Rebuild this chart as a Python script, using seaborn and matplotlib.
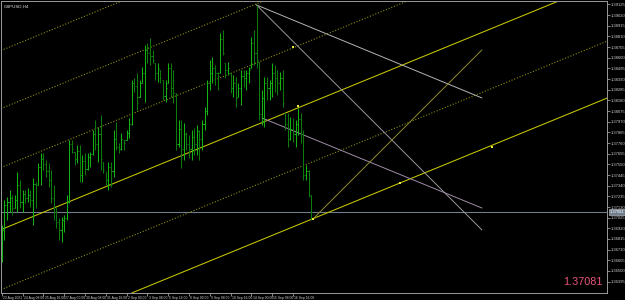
import numpy as np
import pandas as pd
import matplotlib
matplotlib.use("Agg")
import matplotlib.pyplot as plt
import matplotlib.transforms as mtransforms
import seaborn as sns

# ---------------- data ----------------
symbol_title = "GBPUSD,H4"
current_price = 1.37081

bar_high = [1.36953, 1.37199, 1.37229, 1.37297, 1.37248, 1.37248, 1.37475, 1.37396, 1.37297, 1.37297,
            1.37317, 1.37297, 1.37416, 1.37376, 1.37563, 1.37662, 1.37662, 1.37593, 1.37563, 1.37494,
            1.37347, 1.37130, 1.37022, 1.37032, 1.37051, 1.37248, 1.37790, 1.37790, 1.37672, 1.37741,
            1.37741, 1.37642, 1.37662, 1.37662, 1.37672, 1.37888, 1.37987, 1.37918, 1.38036, 1.37573,
            1.37475, 1.37573, 1.37573, 1.37888, 1.37967, 1.37760, 1.37859, 1.37790, 1.37888, 1.38007,
            1.38381, 1.38401, 1.38450, 1.38381, 1.38509, 1.38726, 1.38745, 1.38795, 1.38676, 1.38548,
            1.38548, 1.38479, 1.38381, 1.38381, 1.38548, 1.38548, 1.38479, 1.38253, 1.37987, 1.37987,
            1.37957, 1.37869, 1.37839, 1.37888, 1.37908, 1.37938, 1.37888, 1.37987, 1.38115, 1.38381,
            1.38578, 1.38608, 1.38529, 1.38460, 1.38844, 1.38873, 1.38548, 1.38558, 1.38450, 1.38430,
            1.38411, 1.38351, 1.38479, 1.38479, 1.38479, 1.38509, 1.38805, 1.38873, 1.39120, 1.38558,
            1.38282, 1.38411, 1.38411, 1.38381, 1.38548, 1.38529, 1.38479, 1.38460, 1.38479, 1.38056,
            1.38056, 1.38017, 1.38007, 1.37987, 1.38105, 1.38056, 1.37888, 1.37544, 1.37494, 1.37248]
bar_low = [1.36588, 1.36805, 1.37002, 1.37081, 1.37051, 1.37120, 1.37081, 1.37120, 1.37081, 1.37169,
           1.37179, 1.37130, 1.36953, 1.37120, 1.37347, 1.37347, 1.37494, 1.37426, 1.37327, 1.37169,
           1.37002, 1.36923, 1.36805, 1.36785, 1.36884, 1.37002, 1.37169, 1.37662, 1.37544, 1.37563,
           1.37376, 1.37376, 1.37445, 1.37494, 1.37524, 1.37642, 1.37691, 1.37573, 1.37494, 1.37465,
           1.37347, 1.37297, 1.37327, 1.37426, 1.37691, 1.37662, 1.37691, 1.37691, 1.37790, 1.37810,
           1.37938, 1.38263, 1.38085, 1.38214, 1.38351, 1.38164, 1.38548, 1.38529, 1.38548, 1.38381,
           1.38361, 1.38351, 1.38184, 1.38164, 1.38351, 1.38214, 1.38154, 1.37691, 1.37721, 1.37514,
           1.37593, 1.37691, 1.37613, 1.37593, 1.37642, 1.37642, 1.37593, 1.37691, 1.37888, 1.38036,
           1.38282, 1.38351, 1.38332, 1.38282, 1.38450, 1.38627, 1.38401, 1.38430, 1.38253, 1.38214,
           1.38115, 1.38214, 1.38135, 1.38312, 1.38282, 1.38351, 1.38499, 1.38529, 1.38499, 1.37987,
           1.37938, 1.37918, 1.38184, 1.38184, 1.38214, 1.38263, 1.38233, 1.38282, 1.38115, 1.37888,
           1.37721, 1.37790, 1.37770, 1.37721, 1.37839, 1.37760, 1.37396, 1.37396, 1.37229, 1.37002]
bar_open = [1.3665, 1.3690, 1.3715, 1.3718, 1.3722, 1.3712, 1.3720, 1.3735, 1.3718, 1.3726,
            1.3722, 1.3725, 1.3720, 1.3736, 1.3735, 1.3752, 1.3760, 1.3755, 1.3748, 1.3740,
            1.3722, 1.3708, 1.3698, 1.3690, 1.3700, 1.3702, 1.3718, 1.3775, 1.3767, 1.3760,
            1.3768, 1.3745, 1.3758, 1.3750, 1.3762, 1.3765, 1.3785, 1.3775, 1.3785, 1.3757,
            1.3748, 1.3740, 1.3752, 1.3748, 1.3780, 1.3772, 1.3770, 1.3779, 1.3779, 1.3786,
            1.3795, 1.3835, 1.3832, 1.3821, 1.3835, 1.3845, 1.3868, 1.3865, 1.3862, 1.3855,
            1.3845, 1.3848, 1.3838, 1.3822, 1.3835, 1.3850, 1.3830, 1.3825, 1.3775, 1.3790,
            1.3770, 1.3785, 1.3775, 1.3770, 1.3782, 1.3775, 1.3788, 1.3780, 1.3795, 1.3808,
            1.3835, 1.3845, 1.3850, 1.3845, 1.3845, 1.3878, 1.3855, 1.3848, 1.3845, 1.3830,
            1.3835, 1.3821, 1.3830, 1.3842, 1.3840, 1.3845, 1.3850, 1.3875, 1.3865, 1.3856,
            1.3805, 1.3820, 1.3835, 1.3830, 1.3835, 1.3845, 1.3840, 1.3835, 1.3840, 1.3806,
            1.3795, 1.3780, 1.3790, 1.3785, 1.3795, 1.3800, 1.3785, 1.3745, 1.3748, 1.3725]
bar_close = [1.3690, 1.3715, 1.3718, 1.3722, 1.3712, 1.3720, 1.3735, 1.3718, 1.3726, 1.3722,
             1.3725, 1.3720, 1.3736, 1.3735, 1.3752, 1.3760, 1.3755, 1.3748, 1.3740, 1.3722,
             1.3708, 1.3698, 1.3690, 1.3700, 1.3702, 1.3718, 1.3775, 1.3770, 1.3760, 1.3768,
             1.3745, 1.3758, 1.3750, 1.3762, 1.3765, 1.3785, 1.3775, 1.3785, 1.3760, 1.3750,
             1.3740, 1.3752, 1.3748, 1.3780, 1.3772, 1.3770, 1.3780, 1.3776, 1.3786, 1.3795,
             1.3835, 1.3832, 1.3815, 1.3835, 1.3845, 1.3868, 1.3865, 1.3862, 1.3858, 1.3845,
             1.3850, 1.3840, 1.3822, 1.3830, 1.3850, 1.3830, 1.3825, 1.3775, 1.3790, 1.3770,
             1.3785, 1.3775, 1.3770, 1.3782, 1.3775, 1.3788, 1.3780, 1.3795, 1.3808, 1.3835,
             1.3845, 1.3850, 1.3845, 1.3842, 1.3878, 1.3865, 1.3848, 1.3850, 1.3830, 1.3835,
             1.3820, 1.3830, 1.3842, 1.3840, 1.3845, 1.3848, 1.3875, 1.3865, 1.3858, 1.3805,
             1.3820, 1.3835, 1.3830, 1.3835, 1.3845, 1.3840, 1.3835, 1.3840, 1.3815, 1.3795,
             1.3780, 1.3790, 1.3785, 1.3795, 1.3800, 1.3785, 1.3745, 1.3748, 1.3725, 1.37081]

date_labels = ["23 Aug 2021", "24 Aug 08:00", "25 Aug 16:00", "27 Aug 00:00", "30 Aug 08:00",
               "31 Aug 16:00", "2 Sep 00:00", "3 Sep 08:00", "6 Sep 16:00", "8 Sep 00:00",
               "9 Sep 08:00", "10 Sep 16:00", "14 Sep 00:00", "15 Sep 08:00", "16 Sep 16:00"]
date_label_bars = [0, 8, 16, 24, 32, 40, 48, 56, 64, 72, 80, 88, 96, 104, 112]

price_ticks = [1.39125, 1.39020, 1.38915, 1.38810, 1.38705, 1.38600, 1.38495, 1.38390, 1.38285,
               1.38180, 1.38075, 1.37970, 1.37865, 1.37760, 1.37655, 1.37550, 1.37445, 1.37340,
               1.37235, 1.37130, 1.37025, 1.36920, 1.36815, 1.36710, 1.36605, 1.36500, 1.36395]

# Fibonacci-style channel: price of each level at bar 0, common slope (price per bar)
channel_at_bar0 = [1.38674, 1.38102, 1.37521, 1.36910, 1.36319, 1.35758]
channel_solid = [False, False, False, True, False, True]
channel_slope = 0.000105

# trend lines: (bar0, price0, bar1, price1)
trend_bar0 = [98.0, 98.0, 100.1, 119.7]
trend_p0 = [1.39120, 1.39120, 1.38007, 1.37012]
trend_bar1 = [184.7, 184.7, 184.7, 184.7]
trend_p1 = [1.38204, 1.36904, 1.37120, 1.38677]
trend_colors = ["#b4b4b4", "#9a9a9a", "#a08ca8", "#8c8c30"]

anchor_bars = [114.0, 119.7, 153.2, 188.6, 112.0]
anchor_prices = [1.38125, 1.37012, 1.37366, 1.37721, 1.38706]

# ---------------- figure ----------------
sns.set_style("dark", {"axes.facecolor": "black", "figure.facecolor": "black"})
plt.rcParams["font.family"] = ["Liberation Sans", "DejaVu Sans"]

W, H = 625, 300
fig = plt.figure(figsize=(6.25, 3.0), dpi=100)
fig.patch.set_facecolor("black")
ax = fig.add_axes([1 / W, 7 / H, 606 / W, 292 / H])
ax.set_facecolor("black")

x_min, x_max = -0.27, 232.8
y_min, y_max = 1.36283, 1.39159
ax.set_xlim(x_min, x_max)
ax.set_ylim(y_min, y_max)

# channel lines
for p0, solid in zip(channel_at_bar0, channel_solid):
    if solid:
        ax.axline((0, p0), slope=channel_slope, color="#c8c800", lw=0.75, zorder=2)
    else:
        ax.axline((0, p0), slope=channel_slope, color="#8e8e10", lw=0.8,
                  ls=(0, (1, 1.6)), zorder=2)

# trend lines
for b0, p0, b1, p1, c in zip(trend_bar0, trend_p0, trend_bar1, trend_p1, trend_colors):
    seg = pd.DataFrame({"bar": [b0, b1], "price": [p0, p1]})
    sns.lineplot(data=seg, x="bar", y="price", ax=ax, color=c, lw=0.7,
                 sort=False, estimator=None, zorder=2)

# current price line
ax.axhline(current_price, color="#6f7f90", lw=0.75, zorder=1)

# OHLC bars
df = pd.DataFrame({"bar": np.arange(len(bar_high)), "high": bar_high, "low": bar_low,
                   "open": bar_open, "close": bar_close})
up = df["close"] >= df["open"]
colors = np.where(up, "#12b312", "#0d7a0d")
ax.vlines(df["bar"], df["low"], df["high"], colors=colors, lw=0.75, zorder=3)
ax.hlines(df["open"], df["bar"] - 0.45, df["bar"], colors=colors, lw=0.7, zorder=3)
ax.hlines(df["close"], df["bar"], df["bar"] + 0.45, colors=colors, lw=0.7, zorder=3)

# anchor markers
sns.scatterplot(x=anchor_bars, y=anchor_prices, ax=ax, color="#e8e83a", marker="s",
                s=4, linewidth=0, zorder=4)

# axes styling
for side in ["left", "top", "right", "bottom"]:
    ax.spines[side].set_visible(True)
    ax.spines[side].set_color("#9a9a9a")
    ax.spines[side].set_linewidth(0.7)
ax.grid(False)
ax.set_xlabel("")
ax.set_ylabel("")

ax.yaxis.tick_right()
ax.set_yticks(price_ticks)
ax.set_yticklabels([f"{p:.5f}" for p in price_ticks])
ax.tick_params(axis="y", which="both", right=True, left=False, length=2, width=0.5,
               color="#bbbbbb", labelsize=3.0, labelcolor="#d0d0d0", pad=1.0)

ax.set_xticks(date_label_bars)
ax.set_xticklabels(date_labels, ha="left")
ax.tick_params(axis="x", which="both", bottom=True, length=2.0, width=0.5,
               color="#bbbbbb", labelsize=2.4, labelcolor="#d0d0d0", pad=0.4)
for lbl in ax.get_xticklabels():
    lbl.set_x(lbl.get_position()[0])
    lbl.set_transform(lbl.get_transform() + mtransforms.ScaledTranslation(1.2 / 100, 0, fig.dpi_scale_trans))

# title
ax.text(0.004, 0.988, symbol_title, transform=ax.transAxes, ha="left", va="top",
        fontsize=3.2, color="#e0e0e0")

# current price tag on axis
trans = mtransforms.blended_transform_factory(ax.transAxes, ax.transData)
ax.text(1.004, current_price, f"{current_price:.5f}", transform=trans, ha="left",
        va="center", fontsize=3.0, color="white", clip_on=False,
        bbox=dict(boxstyle="square,pad=0.15", fc="#6f7f90", ec="#d0d0d0", lw=0.4))

# big price text bottom right
ax.text(0.993, 0.02, f"{current_price:.5f}", transform=ax.transAxes, ha="right",
        va="bottom", fontsize=7.8, color="#e8557a")

fig.savefig("out.png", dpi=100, facecolor="black")
